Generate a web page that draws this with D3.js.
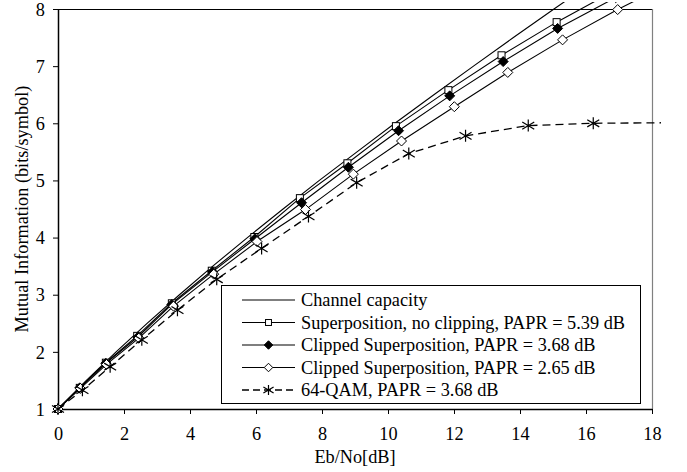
<!DOCTYPE html>
<html>
<head>
<meta charset="utf-8">
<script src="https://cdn.jsdelivr.net/npm/d3@7"></script>
<style>
  html, body { margin: 0; padding: 0; background: #fff; }
  svg { display: block; }
  text { font-family: "Liberation Serif", "Times New Roman", serif; fill: #000; }
</style>
</head>
<body>
<svg id="chart" width="687" height="472"></svg>
<script>
// ---- data ----
const xTicks = [0, 2, 4, 6, 8, 10, 12, 14, 16, 18];
const yTicks = [1, 2, 3, 4, 5, 6, 7, 8];

const capacityX = [0, 0.86, 1.76, 2.70, 3.68, 4.69, 5.74, 6.82, 7.92, 9.06, 10.21, 11.39, 12.59, 13.80, 15.03, 15.53];
const capacityY = [1, 1.5, 2, 2.5, 3, 3.5, 4, 4.5, 5, 5.5, 6, 6.5, 7, 7.5, 8, 8.2];

const superX = [0, 0.66, 1.45, 2.40, 3.45, 4.66, 5.95, 7.33, 8.77, 10.24, 11.83, 13.44, 15.11, 16.80];
const superY = [1, 1.37, 1.81, 2.28, 2.85, 3.42, 4.01, 4.69, 5.30, 5.95, 6.58, 7.19, 7.77, 8.30];

const clip368X = [0, 0.66, 1.45, 2.42, 3.45, 4.68, 5.97, 7.38, 8.80, 10.32, 11.87, 13.49, 15.14, 16.90];
const clip368Y = [1, 1.37, 1.80, 2.26, 2.83, 3.40, 3.98, 4.61, 5.23, 5.87, 6.48, 7.08, 7.66, 8.20];

const clip265X = [0, 0.68, 1.47, 2.45, 3.50, 4.72, 6.03, 7.50, 8.95, 10.41, 12.01, 13.63, 15.29, 16.96, 18.70];
const clip265Y = [1, 1.36, 1.78, 2.24, 2.80, 3.36, 3.93, 4.49, 5.11, 5.69, 6.29, 6.89, 7.46, 7.99, 8.50];

const qamX = [0, 0.74, 1.58, 2.54, 3.62, 4.81, 6.17, 7.59, 9.05, 10.63, 12.35, 14.25, 16.22, 18.50];
const qamY = [1, 1.33, 1.74, 2.21, 2.73, 3.27, 3.81, 4.37, 4.96, 5.47, 5.78, 5.96, 6.00, 6.01];

const seriesNames = [
  "Channel capacity",
  "Superposition, no clipping, PAPR = 5.39 dB",
  "Clipped Superposition, PAPR = 3.68 dB",
  "Clipped Superposition, PAPR = 2.65 dB",
  "64-QAM, PAPR = 3.68 dB"
];
const seriesMarkers = ["none", "square", "diamondFilled", "diamondOpen", "asterisk"];
const seriesDash = [null, null, null, null, "8,5"];

const xTitle = "Eb/No[dB]";
const yTitle = "Mutual Information (bits/symbol)";

// ---- build ----
const series = [
  {xs: capacityX, ys: capacityY},
  {xs: superX, ys: superY},
  {xs: clip368X, ys: clip368Y},
  {xs: clip265X, ys: clip265Y},
  {xs: qamX, ys: qamY}
].map((s, i) => ({
  name: seriesNames[i], marker: seriesMarkers[i], dash: seriesDash[i],
  pts: s.xs.map((x, j) => [x, s.ys[j]])
}));

const svg = d3.select("#chart");
const L = 58, R = 652, T = 9, B = 409;
const FS = 18.3;

const x = d3.scaleLinear().domain([0, 18]).range([L, R]);
const y = d3.scaleLinear().domain([1, 8]).range([B, T]);

svg.append("rect").attr("width", 687).attr("height", 472).attr("fill", "#fff");

// frame: top black, right grey
svg.append("line").attr("x1", L).attr("x2", R).attr("y1", T + 0.5).attr("y2", T + 0.5)
  .attr("stroke", "#000").attr("stroke-width", 1.2);
svg.append("line").attr("x1", R + 0.5).attr("x2", R + 0.5).attr("y1", T).attr("y2", B)
  .attr("stroke", "#808080").attr("stroke-width", 1.2);

// axes
const yAxis = d3.axisLeft(y).tickValues(yTicks).tickFormat(d3.format("d")).tickSize(5).tickSizeOuter(0);
const xAxis = d3.axisBottom(x).tickValues(xTicks).tickFormat(d3.format("d")).tickSize(5).tickSizeOuter(0);

const gy = svg.append("g").attr("transform", `translate(${L},0)`).call(yAxis);
const gx = svg.append("g").attr("transform", `translate(0,${B})`).call(xAxis);
[gx, gy].forEach(g => {
  g.selectAll("path.domain").attr("stroke", "#000").attr("stroke-width", 1.5);
  g.selectAll(".tick line").attr("stroke", "#000").attr("stroke-width", 1);
  g.selectAll("text").attr("font-family", "Liberation Serif, serif").attr("font-size", FS).attr("fill", "#000");
});
gy.selectAll("text").attr("x", -13).attr("dy", "0.34em");
gx.selectAll("text").attr("y", 18).attr("dy", "0.71em");

// titles
svg.append("text").attr("x", (L + R) / 2).attr("y", 463).attr("text-anchor", "middle")
  .attr("font-size", FS).text(xTitle);
svg.append("text").attr("transform", `translate(28,${(T + B) / 2}) rotate(-90)`)
  .attr("text-anchor", "middle").attr("font-size", FS).text(yTitle);

// clip
svg.append("clipPath").attr("id", "clip").append("rect")
  .attr("x", 44).attr("y", 2).attr("width", 661 - 44).attr("height", 420 - 2);

const plot = svg.append("g").attr("clip-path", "url(#clip)");
const line = d3.line().x(d => x(d[0])).y(d => y(d[1]));

function drawMarker(g, type, cx, cy, scale) {
  scale = scale || 1;
  if (type === "square") {
    const s = 3.5 * scale;
    g.append("rect").attr("x", cx - s).attr("y", cy - s).attr("width", 2 * s).attr("height", 2 * s)
      .attr("fill", "#fff").attr("stroke", "#000").attr("stroke-width", 1);
  } else if (type === "diamondFilled" || type === "diamondOpen") {
    const s = 5 * scale;
    g.append("path").attr("d", `M${cx},${cy - s}L${cx + s},${cy}L${cx},${cy + s}L${cx - s},${cy}Z`)
      .attr("fill", type === "diamondFilled" ? "#000" : "#fff").attr("stroke", "#000").attr("stroke-width", 1);
  } else if (type === "asterisk") {
    const s = 6 * scale, d = 6 * scale, e = 3.6 * scale;
    g.append("path").attr("d",
      `M${cx},${cy - s}L${cx},${cy + s}M${cx - d},${cy - e}L${cx + d},${cy + e}M${cx - d},${cy + e}L${cx + d},${cy - e}`)
      .attr("fill", "none").attr("stroke", "#000").attr("stroke-width", 1.2);
  }
}

series.forEach(s => {
  plot.append("path").datum(s.pts).attr("d", line).attr("fill", "none")
    .attr("stroke", "#000").attr("stroke-width", s.dash ? 1.3 : 1.1)
    .attr("stroke-dasharray", s.dash);
  if (s.marker !== "none") {
    const mg = plot.append("g");
    s.pts.forEach(p => drawMarker(mg, s.marker, x(p[0]), y(p[1])));
  }
});

// legend
const lg = svg.append("g");
lg.append("rect").attr("x", 221.5).attr("y", 285.5).attr("width", 419).attr("height", 118)
  .attr("fill", "#fff").attr("stroke", "#000").attr("stroke-width", 1);
series.forEach((s, i) => {
  const cy = 300 + i * 22.5;
  lg.append("line").attr("x1", 242).attr("x2", 295).attr("y1", cy).attr("y2", cy)
    .attr("stroke", "#000").attr("stroke-width", s.dash ? 1.6 : 1.1).attr("stroke-dasharray", s.dash ? "7,4" : null);
  if (s.marker !== "none") drawMarker(lg, s.marker, 268.5, cy, 0.85);
  lg.append("text").attr("x", 301).attr("y", cy).attr("dy", "0.34em").attr("font-size", FS).text(s.name);
});
</script>
</body>
</html>
